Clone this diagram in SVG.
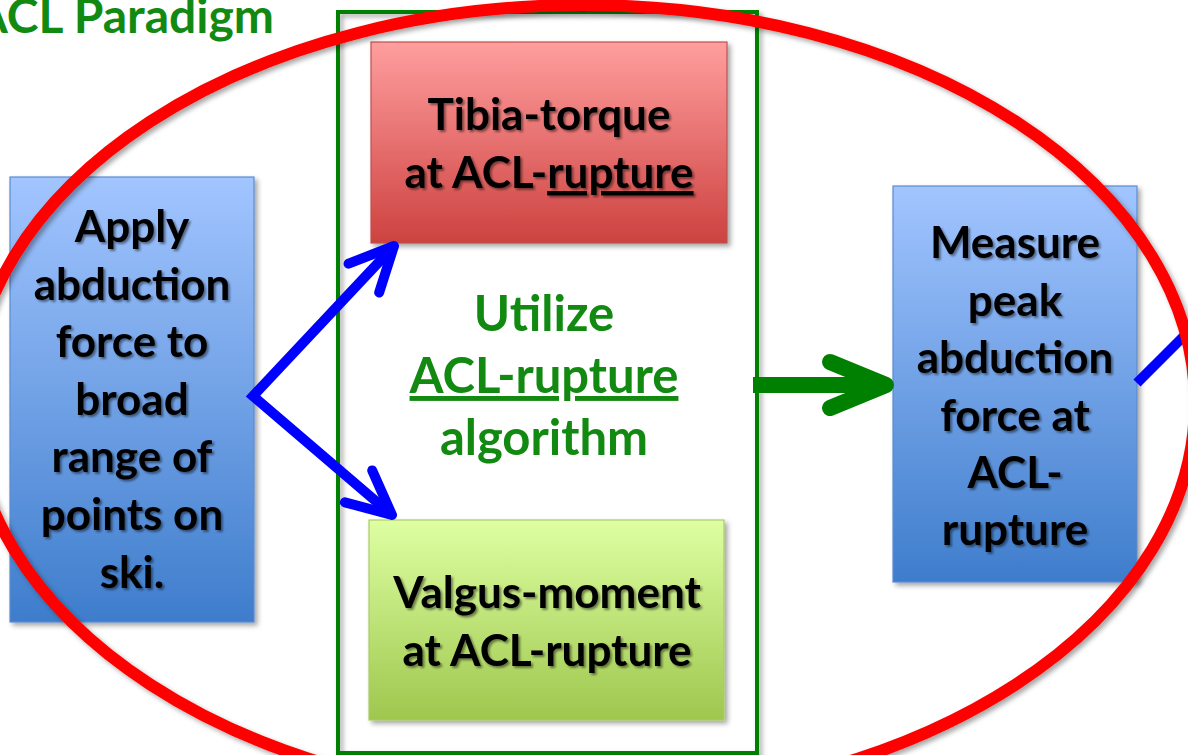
<svg xmlns="http://www.w3.org/2000/svg" width="1188" height="755" viewBox="0 0 1188 755">
  <defs>
    <style>
      .box-t{font-family:Lato,"Liberation Sans",sans-serif;font-weight:bold;font-size:44px;fill:#000;text-anchor:middle}
      .mid-t{font-family:Lato,"Liberation Sans",sans-serif;font-weight:bold;font-size:49px;fill:#128A12;text-anchor:middle}
      .title{font-family:Lato,"Liberation Sans",sans-serif;font-weight:bold;font-size:48px;fill:#128A12}
      .ul{text-decoration:underline}
      .conn-blue{fill:none;stroke:#0000FF;stroke-width:10}
      .conn-green{fill:none;stroke:#008000;stroke-width:16}
    </style>
    <linearGradient id="gBlue" x1="0" y1="0" x2="0" y2="1">
      <stop offset="0" stop-color="#A2C5FF"/>
      <stop offset="1" stop-color="#3E7DCC"/>
    </linearGradient>
    <linearGradient id="gRed" x1="0" y1="0" x2="0" y2="1">
      <stop offset="0" stop-color="#FF9E9E"/>
      <stop offset="1" stop-color="#CD4240"/>
    </linearGradient>
    <linearGradient id="gGreen" x1="0" y1="0" x2="0" y2="1">
      <stop offset="0" stop-color="#DEFFA2"/>
      <stop offset="1" stop-color="#9EC74E"/>
    </linearGradient>
    <filter id="shadow" x="-10%" y="-10%" width="130%" height="130%">
      <feDropShadow dx="3" dy="3" stdDeviation="2.5" flood-color="#000" flood-opacity="0.35"/>
    </filter>
    <filter id="tshadow" x="-10%" y="-10%" width="130%" height="130%">
      <feDropShadow dx="2" dy="2" stdDeviation="1.3" flood-color="#000" flood-opacity="0.45"/>
    </filter>
    <marker id="openBlue" markerUnits="userSpaceOnUse" viewBox="-60 -40 80 80" markerWidth="80" markerHeight="80" refX="0" refY="0" orient="auto-start-reverse" overflow="visible">
      <path d="M-44,-21 L0,0 L-44,21" fill="none" stroke="#0000FF" stroke-width="10" stroke-linecap="round" stroke-linejoin="round"/>
    </marker>
    <marker id="openGreen" markerUnits="userSpaceOnUse" viewBox="-80 -50 100 100" markerWidth="100" markerHeight="100" refX="0" refY="0" orient="auto" overflow="visible">
      <path d="M-56,-23 L0,0 L-56,23" fill="none" stroke="#008000" stroke-width="16" stroke-linecap="round" stroke-linejoin="round"/>
    </marker>
  </defs>

  <rect width="1188" height="755" fill="#FFFFFF"/>

  <g id="title">
    <text class="title" x="274" y="33" text-anchor="end">ACL Paradigm</text>
  </g>

  <g id="algorithm-frame">
    <rect x="338" y="12" width="419" height="741" fill="none" stroke="#008000" stroke-width="4" filter="url(#shadow)"/>
    <text class="mid-t" x="544" y="331">Utilize</text>
    <text class="mid-t" x="544" y="393"><tspan class="ul">ACL-rupture</tspan></text>
    <text class="mid-t" x="544" y="455">algorithm</text>
  </g>

  <g id="apply-force">
    <rect x="10" y="177" width="244" height="445" fill="url(#gBlue)" stroke="#5B8BD2" stroke-width="1.2" filter="url(#shadow)"/>
    <g filter="url(#tshadow)">
      <text class="box-t" x="132" y="242">Apply</text>
      <text class="box-t" x="132" y="300">abduction</text>
      <text class="box-t" x="132" y="357">force to</text>
      <text class="box-t" x="132" y="415">broad</text>
      <text class="box-t" x="132" y="472">range of</text>
      <text class="box-t" x="132" y="530">points on</text>
      <text class="box-t" x="132" y="588">ski.</text>
    </g>
  </g>

  <g id="tibia-torque">
    <rect x="371" y="42" width="356" height="201" fill="url(#gRed)" stroke="#C05050" stroke-width="1.2" filter="url(#shadow)"/>
    <g filter="url(#tshadow)">
      <text class="box-t" x="549" y="130">Tibia-torque</text>
      <text class="box-t" x="549" y="188">at ACL-<tspan class="ul">rupture</tspan></text>
    </g>
  </g>

  <g id="valgus-moment">
    <rect x="369" y="520" width="355" height="200" fill="url(#gGreen)" stroke="#A9CC68" stroke-width="1.2" filter="url(#shadow)"/>
    <g filter="url(#tshadow)">
      <text class="box-t" x="547" y="608">Valgus-moment</text>
      <text class="box-t" x="547" y="666">at ACL-rupture</text>
    </g>
  </g>

  <g id="measure-peak">
    <rect x="893" y="186" width="244" height="396" fill="url(#gBlue)" stroke="#5B8BD2" stroke-width="1.2" filter="url(#shadow)"/>
    <g filter="url(#tshadow)">
      <text class="box-t" x="1015" y="258">Measure</text>
      <text class="box-t" x="1015" y="316">peak</text>
      <text class="box-t" x="1015" y="373">abduction</text>
      <text class="box-t" x="1015" y="431">force at</text>
      <text class="box-t" x="1015" y="488">ACL-</text>
      <text class="box-t" x="1015" y="545">rupture</text>
    </g>
  </g>

  <g id="connectors">
    <path class="conn-blue" d="M394,246 L253,396 L392,515" stroke-linejoin="miter" marker-start="url(#openBlue)" marker-end="url(#openBlue)"/>
    <path class="conn-green" d="M753,385 L886,385" marker-end="url(#openGreen)"/>
    <path class="conn-blue" d="M1137,383 L1195,325"/>
  </g>

  <g id="paradigm-ellipse">
    <ellipse cx="583" cy="403" rx="612" ry="398" fill="none" stroke="#FF0000" stroke-width="12" filter="url(#shadow)"/>
  </g>
</svg>
